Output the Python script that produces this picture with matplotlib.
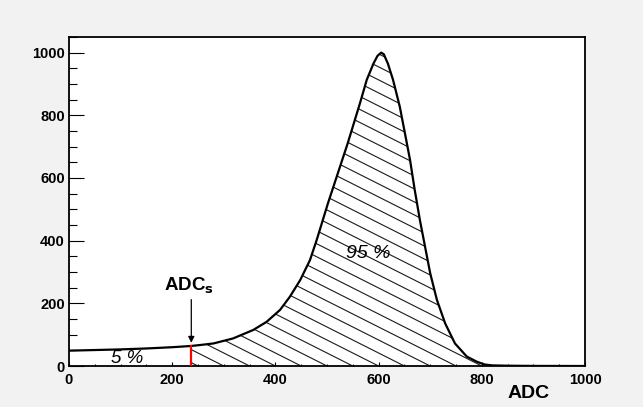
import numpy as np
import matplotlib
matplotlib.use('Agg')
import matplotlib.pyplot as plt
from matplotlib.patches import Polygon
from matplotlib.collections import LineCollection
from matplotlib.ticker import MultipleLocator

plt.rcParams['font.family'] = ['Liberation Sans', 'DejaVu Sans']

# spectrum
adc = [0, 50, 100, 150, 200, 237, 254, 280, 318, 357, 383, 409, 428, 448,
       467, 480, 502, 520, 540, 564, 577, 590, 598, 605, 610, 618, 628, 641,
       651, 661, 670, 680, 690, 700, 713, 729, 748, 771, 790, 805, 820, 850,
       900, 1000]
counts = [49, 51, 53, 56, 60, 64, 67, 72, 88, 115, 141, 179, 221, 274,
          338, 402, 520, 610, 710, 839, 913, 965, 990, 1000, 995, 965, 913, 828,
          743, 657, 562, 466, 381, 296, 211, 136, 72, 30, 14, 5, 2, 1,
          0.3, 0]
adc_s = 237
adc_s_counts = 64

fig = plt.figure(figsize=(6.43, 4.07), dpi=100)
fig.patch.set_facecolor('#f2f2f2')
ax = fig.add_axes([0.1073, 0.1007, 0.8025, 0.8085])
ax.set_facecolor('white')

ax.plot(adc, counts, color='black', lw=1.6, zorder=4)

# hatched area above ADC_s
xs = [adc_s] + [a for a in adc if a > adc_s]
ys = [adc_s_counts] + [c for a, c in zip(adc, counts) if a > adc_s]
poly = Polygon(list(zip(xs, ys)) + [(1000, 0), (adc_s, 0)], closed=True,
               fill=False, edgecolor='none')
ax.add_patch(poly)
slope = 0.83
segs = [[(x0 - 1500, slope * 1500), (x0, 0)] for x0 in np.arange(0, 2200, 50)]
hatch = LineCollection(segs, colors='#1a1a1a', linewidths=0.8, zorder=2)
ax.add_collection(hatch)
hatch.set_clip_path(poly)

ax.plot([adc_s, adc_s], [0, adc_s_counts], color='red', lw=1.6, zorder=5)
ax.annotate('', xy=(adc_s, 74), xytext=(adc_s, 212),
            arrowprops=dict(arrowstyle='-|>', color='black', lw=0.9,
                            mutation_scale=9, shrinkA=0, shrinkB=0))
ax.text(adc_s - 4, 240, r'ADC$_\mathbf{s}$', ha='center', va='baseline',
        fontsize=13.5, fontweight='bold')
ax.text(112, 25, '5 %', ha='center', va='center', fontsize=13.5, style='italic')
ax.text(580, 358, '95 %', ha='center', va='center', fontsize=14, style='italic')

ax.set_xlim(0, 1000)
ax.set_ylim(0, 1050)
ax.xaxis.set_major_locator(MultipleLocator(200))
ax.xaxis.set_minor_locator(MultipleLocator(50))
ax.yaxis.set_major_locator(MultipleLocator(200))
ax.yaxis.set_minor_locator(MultipleLocator(50))
ax.tick_params(axis='y', which='major', direction='in', length=11, width=0.8, pad=3)
ax.tick_params(axis='y', which='minor', direction='in', length=6, width=0.8)
ax.tick_params(axis='x', which='major', direction='in', length=3, width=0.8, pad=5)
ax.tick_params(axis='x', which='minor', direction='in', length=1.5, width=0.8)
for lab in ax.get_xticklabels() + ax.get_yticklabels():
    lab.set_fontsize(10.5)
    lab.set_fontweight('bold')
for sp in ax.spines.values():
    sp.set_linewidth(1.3)

ax.text(0.932, -0.085, 'ADC', transform=ax.transAxes, ha='right', va='center',
        fontsize=14, fontweight='bold')

fig.savefig('out.png', dpi=100, facecolor=fig.get_facecolor())
